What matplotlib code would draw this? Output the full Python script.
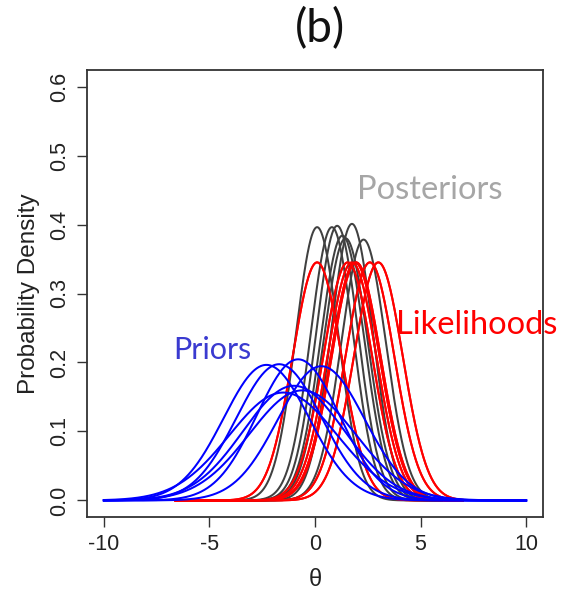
import numpy as np
import matplotlib
matplotlib.use("Agg")
import matplotlib.pyplot as plt

# ---- data ----
prior_means = [-2.3, -1.7, -0.8, 0.3, -1.5, -1.0, -0.6]
prior_sds = [2.03, 2.02, 1.95, 2.05, 2.55, 2.40, 2.50]

lik_means = [0.1, 1.55, 1.9, 2.6, 1.95, 3.0, 1.75]
lik_sds = [1.156, 1.156, 1.156, 1.156, 1.156, 1.156, 1.156]

post_means = [0.1, 0.8, 1.05, 1.75, 1.3, 2.3, 1.45]
post_sds = [1.007, 1.007, 1.002, 0.995, 1.039, 1.055, 1.05]

x_ticks = [-10, -5, 0, 5, 10]
y_ticks = [0.0, 0.1, 0.2, 0.3, 0.4, 0.5, 0.6]
y_ticklabels = ["0.0", "0.1", "0.2", "0.3", "0.4", "0.5", "0.6"]


def npdf(x, m, s):
    return np.exp(-0.5 * ((x - m) / s) ** 2) / (s * np.sqrt(2 * np.pi))


fig = plt.figure(figsize=(5.62, 5.93), dpi=100)
ax = fig.add_axes([87 / 562, 1 - 517 / 593, 456 / 562, 447 / 593])

x_lik = np.linspace(-6.6, 7.0, 600)
x_post = np.linspace(-3.5, 6.0, 600)
x_prior = np.linspace(-10, 10, 800)

LW = 1.45
for m, s in zip(lik_means, lik_sds):
    ax.plot(x_lik, npdf(x_lik, m, s), color="#ff0000", lw=LW, zorder=2)
for m, s in zip(post_means, post_sds):
    ax.plot(x_post, npdf(x_post, m, s), color="#404040", lw=LW, zorder=3)
for m, s in zip(lik_means, lik_sds):
    ax.plot(x_lik, npdf(x_lik, m, s), color="#ff0000", lw=LW, zorder=3.5)
for m, s in zip(prior_means, prior_sds):
    ax.plot(x_prior, npdf(x_prior, m, s), color="#0000ff", lw=LW, zorder=4)

ax.set_xlim(-10.8, 10.8)
ax.set_ylim(-0.024, 0.624)
ax.set_xticks(x_ticks)
ax.set_xticklabels([str(t) for t in x_ticks], fontfamily="Liberation Sans", fontsize=15.5, color="#222222")
ax.set_yticks(y_ticks)
ax.set_yticklabels(y_ticklabels, fontfamily="Liberation Sans", fontsize=15.5, color="#222222",
                   rotation=90, va="center")
ax.tick_params(axis="both", length=7.5, width=1.0, color="#333333", pad=5)
for sp in ax.spines.values():
    sp.set_linewidth(1.3)
    sp.set_color("#333333")

ax.set_xlabel("θ", fontfamily="Liberation Sans", fontsize=17, color="#222222", labelpad=10)
ax.set_ylabel("Probability Density", fontfamily="Liberation Sans", fontsize=17.5,
              color="#222222", labelpad=6)

fig.text(320 / 562, 1 - 29 / 593, "(b)", fontfamily="Lato", fontsize=33,
         ha="center", va="center", color="#111111")
fig.text(430 / 562, 1 - 190 / 593, "Posteriors", fontfamily="Lato", fontsize=23.5,
         ha="center", va="center", color="#a6a6a6")
fig.text(212 / 562, 1 - 350 / 593, "Priors", fontfamily="Lato", fontsize=22,
         ha="center", va="center", color="#3a3ad0")
fig.text(477 / 562, 1 - 325 / 593, "Likelihoods", fontfamily="Lato", fontsize=23.5,
         ha="center", va="center", color="#ff0000", zorder=10)

fig.savefig("out.png", dpi=100, facecolor="white")
